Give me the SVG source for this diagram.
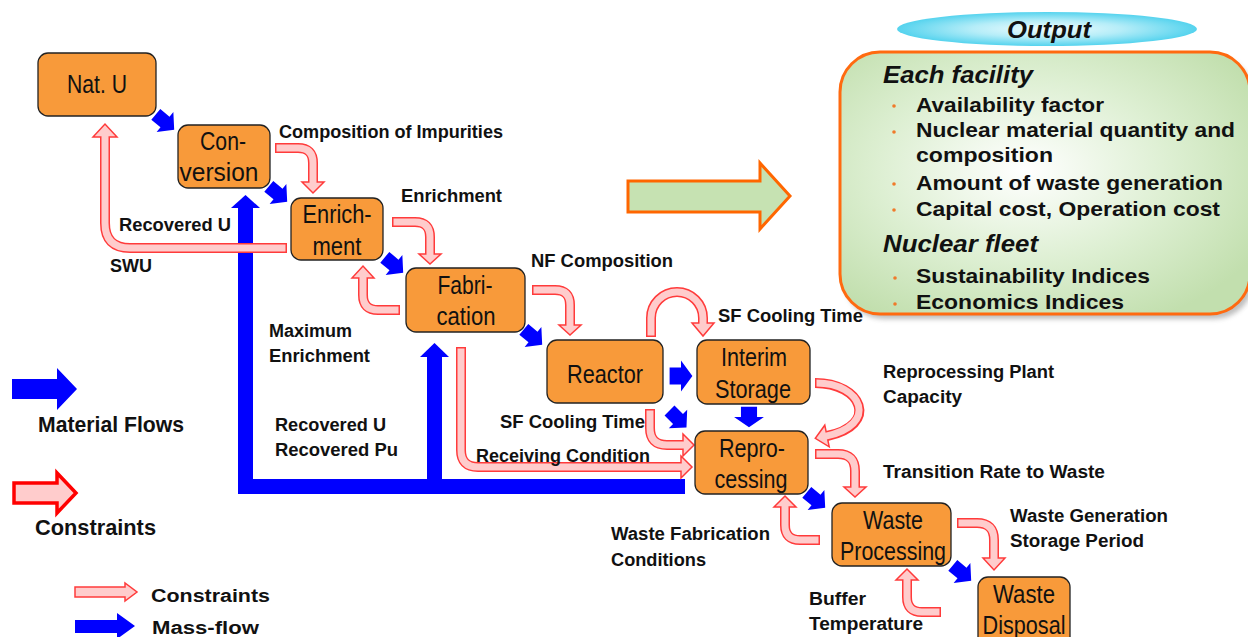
<svg xmlns="http://www.w3.org/2000/svg" xmlns:xlink="http://www.w3.org/1999/xlink" width="1248" height="637" viewBox="0 0 1248 637">
<defs>
<style>
.node rect{fill:#F89A3A;stroke:#222;stroke-width:1.3}
.nt{font-family:"Liberation Sans",Arial,sans-serif;font-size:25px;text-anchor:middle;fill:#111}
.lb{font-family:"Liberation Sans",Arial,sans-serif;font-size:17.5px;font-weight:bold;fill:#111}
.lg{font-family:"Liberation Sans",Arial,sans-serif;font-size:22px;font-weight:bold;fill:#111}
.ot{font-family:"Liberation Sans",Arial,sans-serif;font-size:21px;font-weight:bold;fill:#111}
.oh{font-family:"Liberation Sans",Arial,sans-serif;font-size:23px;font-weight:bold;font-style:italic;fill:#111}
.co{fill:none;stroke:#FF3B3B;stroke-width:10}
.ci{fill:none;stroke:#FFCCCC;stroke-width:7}
.ch{fill:#FFCCCC;stroke:#FF3B3B;stroke-width:1.5;stroke-linejoin:miter}
.blue{fill:#0000FF}
.dot{fill:#F07A2A}
</style>
<path id="ba" d="M-12,-7 H0 V-13 L12,0 L0,13 V7 H-12 Z"/>
<radialGradient id="gOut" cx="0.45" cy="0.45" r="0.65">
<stop offset="0" stop-color="#FFFFFF"/>
<stop offset="0.55" stop-color="#DDEFD2"/>
<stop offset="1" stop-color="#C2DFAE"/>
</radialGradient>
<radialGradient id="gEll" cx="0.5" cy="0.5" r="0.5">
<stop offset="0" stop-color="#F2FDFF"/>
<stop offset="0.5" stop-color="#B5EDF8"/>
<stop offset="1" stop-color="#55D3EE"/>
</radialGradient>
<filter id="sh" x="-10%" y="-10%" width="120%" height="130%">
<feGaussianBlur stdDeviation="2.5"/>
</filter>
</defs>
<rect width="1248" height="637" fill="#FFFFFF"/>

<!-- Output section -->
<g id="output">
<ellipse cx="1047" cy="29" rx="150" ry="17" fill="url(#gEll)"/>
<text x="1049" y="38" class="oh" text-anchor="middle" font-size="24" textLength="84" lengthAdjust="spacingAndGlyphs">Output</text>
<rect x="844" y="57" width="410" height="262" rx="40" fill="#888" opacity="0.55" filter="url(#sh)"/>
<rect x="840" y="52" width="410" height="262" rx="40" fill="url(#gOut)" stroke="#FF6A10" stroke-width="3"/>
<text x="883" y="83" class="oh" textLength="150" lengthAdjust="spacingAndGlyphs">Each facility</text>
<circle class="dot" cx="894" cy="106" r="1.8"/>
<text x="916" y="112" class="ot" textLength="188" lengthAdjust="spacingAndGlyphs">Availability factor</text>
<circle class="dot" cx="894" cy="132" r="1.8"/>
<text x="916" y="137" class="ot" textLength="319" lengthAdjust="spacingAndGlyphs">Nuclear material quantity and</text>
<text x="916" y="162" class="ot" textLength="137" lengthAdjust="spacingAndGlyphs">composition</text>
<circle class="dot" cx="894" cy="184" r="1.8"/>
<text x="916" y="190" class="ot" textLength="307" lengthAdjust="spacingAndGlyphs">Amount of waste generation</text>
<circle class="dot" cx="894" cy="210" r="1.8"/>
<text x="916" y="216" class="ot" textLength="304" lengthAdjust="spacingAndGlyphs">Capital cost, Operation cost</text>
<text x="883" y="252" class="oh" textLength="155" lengthAdjust="spacingAndGlyphs">Nuclear fleet</text>
<circle class="dot" cx="895" cy="278" r="1.8"/>
<text x="916" y="283" class="ot" textLength="234" lengthAdjust="spacingAndGlyphs">Sustainability Indices</text>
<circle class="dot" cx="895" cy="304" r="1.8"/>
<text x="916" y="309" class="ot" textLength="208" lengthAdjust="spacingAndGlyphs">Economics Indices</text>
</g>
<g id="output-arrow">
<polygon points="628,181 760,181 760,163 790,196 760,229 760,212 628,212" fill="#C6E2B2" stroke="#FF6600" stroke-width="3" stroke-linejoin="miter"/>
</g>

<!-- Connectors -->
<g id="connectors">
<!-- mass flow loop -->
<g id="recycle-flow" class="blue">
<rect x="238" y="479" width="447" height="15"/>
<rect x="238" y="207" width="15" height="287"/>
<polygon points="231,208 260,208 245.5,195"/>
<rect x="427" y="356" width="15" height="130"/>
<polygon points="420,357 449,357 434.5,343"/>
</g>
<!-- small mass flow arrows -->
<g id="mass-flows" class="blue">
<use xlink:href="#ba" href="#ba" transform="translate(165,122) rotate(40)"/>
<use xlink:href="#ba" href="#ba" transform="translate(278,194) rotate(40)"/>
<use xlink:href="#ba" href="#ba" transform="translate(394,265) rotate(40)"/>
<use xlink:href="#ba" href="#ba" transform="translate(533,337) rotate(40)"/>
<use xlink:href="#ba" href="#ba" transform="translate(681,376) scale(0.95,1.2)"/>
<use xlink:href="#ba" href="#ba" transform="translate(678,419) rotate(45)"/>
<use xlink:href="#ba" href="#ba" transform="translate(749,417) rotate(90) scale(0.85,1.15)"/>
<use xlink:href="#ba" href="#ba" transform="translate(816,500) rotate(40)"/>
<use xlink:href="#ba" href="#ba" transform="translate(962,573) rotate(40)"/>
</g>
<!-- constraint arrows -->
<g id="constraints">
<path class="co" d="M275,148 H298 Q313,148 313,163 V183"/>
<polygon class="ch" points="302,182 324,182 313,193"/>
<path class="ci" d="M276.5,148 H298 Q313,148 313,163 V185"/>

<path class="co" d="M287,248 H130 Q105,248 105,223 V137"/>
<polygon class="ch" points="93,137 117,137 105,124"/>
<path class="ci" d="M285.5,248 H130 Q105,248 105,223 V135"/>

<path class="co" d="M392,222 H415 Q430,222 430,237 V254"/>
<polygon class="ch" points="419,254 441,254 430,264"/>
<path class="ci" d="M393.5,222 H415 Q430,222 430,237 V256"/>

<path class="co" d="M400,310 H378 Q363,310 363,295 V278"/>
<polygon class="ch" points="352,278 374,278 363,266"/>
<path class="ci" d="M398.5,310 H378 Q363,310 363,295 V276"/>

<path class="co" d="M532,290 H555 Q570,290 570,305 V325"/>
<polygon class="ch" points="559,325 581,325 570,335"/>
<path class="ci" d="M533.5,290 H555 Q570,290 570,305 V327"/>

<path class="co" d="M651,337 V318 A26,26 0 0 1 703,318 V323"/>
<polygon class="ch" points="692,323 714,323 703,336"/>
<path class="ci" d="M651,335.5 V318 A26,26 0 0 1 703,318 V325"/>

<path class="co" d="M650,409 V428 Q650,445 667,445 H683"/>
<polygon class="ch" points="683,434 683,456 694,445"/>
<path class="ci" d="M650,410.5 V428 Q650,445 667,445 H685"/>

<path class="co" d="M461,347 V450 Q461,467 478,467 H681"/>
<polygon class="ch" points="681,456 681,478 692,467"/>
<path class="ci" d="M461,348.5 V450 Q461,467 478,467 H683"/>

<path class="co" d="M815,383 C862,383 880,425 827,436"/>
<polygon class="ch" points="824.8,425.2 829.2,446.8 815.3,438.4"/>
<path class="ci" d="M816.5,383 C862,383 880,425 825,436.4"/>

<path class="co" d="M815,454 H838 Q855,454 855,471 V487"/>
<polygon class="ch" points="844,487 866,487 855,497"/>
<path class="ci" d="M816.5,454 H838 Q855,454 855,471 V489"/>

<path class="co" d="M820,540 H800 Q785,540 785,525 V507"/>
<polygon class="ch" points="774,507 796,507 785,496"/>
<path class="ci" d="M818.5,540 H800 Q785,540 785,525 V505"/>

<path class="co" d="M941,612 H922 Q907,612 907,597 V580"/>
<polygon class="ch" points="896,580 918,580 907,569"/>
<path class="ci" d="M939.5,612 H922 Q907,612 907,597 V578"/>

<path class="co" d="M957,523 H977 Q994,523 994,540 V558"/>
<polygon class="ch" points="983,558 1005,558 994,570"/>
<path class="ci" d="M958.5,523 H977 Q994,523 994,540 V560"/>
</g>
</g>

<!-- Nodes -->
<g id="nat-u" class="node">
<rect x="38" y="53" width="118" height="63" rx="10"/>
<text x="97" y="93" class="nt" textLength="60" lengthAdjust="spacingAndGlyphs">Nat. U</text>
</g>
<g id="conversion" class="node">
<rect x="178" y="125" width="92" height="63" rx="10"/>
<text x="223" y="150" class="nt" textLength="46" lengthAdjust="spacingAndGlyphs">Con-</text>
<text x="219" y="181" class="nt" textLength="79" lengthAdjust="spacingAndGlyphs">version</text>
</g>
<g id="enrichment" class="node">
<rect x="291" y="198" width="92" height="62" rx="10"/>
<text x="337" y="223" class="nt" textLength="69" lengthAdjust="spacingAndGlyphs">Enrich-</text>
<text x="337" y="255" class="nt" textLength="49" lengthAdjust="spacingAndGlyphs">ment</text>
</g>
<g id="fabrication" class="node">
<rect x="406" y="268" width="119" height="64" rx="10"/>
<text x="465" y="294" class="nt" textLength="55" lengthAdjust="spacingAndGlyphs">Fabri-</text>
<text x="466" y="325" class="nt" textLength="59" lengthAdjust="spacingAndGlyphs">cation</text>
</g>
<g id="reactor" class="node">
<rect x="547" y="340" width="116" height="63" rx="10"/>
<text x="605" y="383" class="nt" textLength="76" lengthAdjust="spacingAndGlyphs">Reactor</text>
</g>
<g id="interim-storage" class="node">
<rect x="697" y="340" width="113" height="64" rx="10"/>
<text x="754" y="366" class="nt" textLength="66" lengthAdjust="spacingAndGlyphs">Interim</text>
<text x="753" y="398" class="nt" textLength="76" lengthAdjust="spacingAndGlyphs">Storage</text>
</g>
<g id="reprocessing" class="node">
<rect x="695" y="431" width="113" height="63" rx="10"/>
<text x="752" y="457" class="nt" textLength="66" lengthAdjust="spacingAndGlyphs">Repro-</text>
<text x="751" y="488" class="nt" textLength="73" lengthAdjust="spacingAndGlyphs">cessing</text>
</g>
<g id="waste-processing" class="node">
<rect x="832" y="503" width="119" height="63" rx="10"/>
<text x="893" y="529" class="nt" textLength="60" lengthAdjust="spacingAndGlyphs">Waste</text>
<text x="893" y="560" class="nt" textLength="106" lengthAdjust="spacingAndGlyphs">Processing</text>
</g>
<g id="waste-disposal" class="node">
<rect x="978" y="577" width="92" height="70" rx="10"/>
<text x="1024" y="603" class="nt" textLength="62" lengthAdjust="spacingAndGlyphs">Waste</text>
<text x="1024" y="634" class="nt" textLength="83" lengthAdjust="spacingAndGlyphs">Disposal</text>
</g>

<!-- Labels -->
<g id="labels">
<text x="279" y="138" class="lb" textLength="224" lengthAdjust="spacingAndGlyphs">Composition of Impurities</text>
<text x="401" y="202" class="lb" textLength="101" lengthAdjust="spacingAndGlyphs">Enrichment</text>
<text x="119" y="231" class="lb" textLength="112" lengthAdjust="spacingAndGlyphs">Recovered U</text>
<text x="110" y="272" class="lb" textLength="42" lengthAdjust="spacingAndGlyphs">SWU</text>
<text x="531" y="267" class="lb" textLength="142" lengthAdjust="spacingAndGlyphs">NF Composition</text>
<text x="718" y="322" class="lb" textLength="145" lengthAdjust="spacingAndGlyphs">SF Cooling Time</text>
<text x="269" y="337" class="lb" textLength="83" lengthAdjust="spacingAndGlyphs">Maximum</text>
<text x="269" y="362" class="lb" textLength="101" lengthAdjust="spacingAndGlyphs">Enrichment</text>
<text x="275" y="431" class="lb" textLength="111" lengthAdjust="spacingAndGlyphs">Recovered U</text>
<text x="275" y="456" class="lb" textLength="123" lengthAdjust="spacingAndGlyphs">Recovered Pu</text>
<text x="500" y="428" class="lb" textLength="145" lengthAdjust="spacingAndGlyphs">SF Cooling Time</text>
<text x="476" y="462" class="lb" textLength="174" lengthAdjust="spacingAndGlyphs">Receiving Condition</text>
<text x="883" y="378" class="lb" textLength="171" lengthAdjust="spacingAndGlyphs">Reprocessing Plant</text>
<text x="883" y="403" class="lb" textLength="79" lengthAdjust="spacingAndGlyphs">Capacity</text>
<text x="883" y="478" class="lb" textLength="222" lengthAdjust="spacingAndGlyphs">Transition Rate to Waste</text>
<text x="1010" y="522" class="lb" textLength="158" lengthAdjust="spacingAndGlyphs">Waste Generation</text>
<text x="1010" y="547" class="lb" textLength="134" lengthAdjust="spacingAndGlyphs">Storage Period</text>
<text x="611" y="540" class="lb" textLength="159" lengthAdjust="spacingAndGlyphs">Waste Fabrication</text>
<text x="611" y="566" class="lb" textLength="95" lengthAdjust="spacingAndGlyphs">Conditions</text>
<text x="809" y="605" class="lb" textLength="57" lengthAdjust="spacingAndGlyphs">Buffer</text>
<text x="809" y="630" class="lb" textLength="114" lengthAdjust="spacingAndGlyphs">Temperature</text>
</g>

<!-- Legend -->
<g id="legend">
<polygon class="blue" points="12,379 57,379 57,368 77,389 57,410 57,399 12,399"/>
<text x="38" y="432" class="lg" textLength="146" lengthAdjust="spacingAndGlyphs">Material Flows</text>
<polygon points="14,483 57,483 57,473 76,493 57,513 57,503 14,503" fill="#FFCCCC" stroke="#FF0000" stroke-width="3.5"/>
<text x="35" y="535" class="lg" textLength="121" lengthAdjust="spacingAndGlyphs">Constraints</text>
<polygon points="75,587 125,587 125,583 137,592 125,601 125,597 75,597" fill="#FFCCCC" stroke="#FF3B3B" stroke-width="1.5"/>
<text x="151" y="602" class="lb" font-size="20" textLength="119" lengthAdjust="spacingAndGlyphs">Constraints</text>
<polygon class="blue" points="75,620 117,620 117,613 135,626 117,639 117,633 75,633"/>
<text x="152" y="634" class="lb" font-size="20" textLength="107" lengthAdjust="spacingAndGlyphs">Mass-flow</text>
</g>
</svg>
